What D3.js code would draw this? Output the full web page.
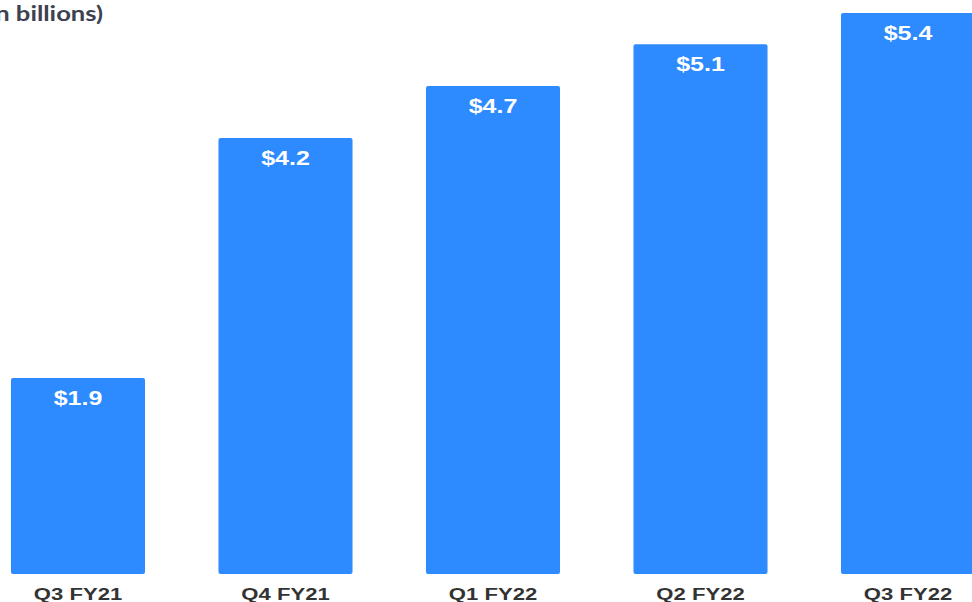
<!DOCTYPE html>
<html><head><meta charset="utf-8">
<script src="https://cdn.jsdelivr.net/npm/d3@7"></script>
<style>html,body{margin:0;padding:0;background:#fff;overflow:hidden}</style>
</head><body>
<svg id="c" width="972" height="602"></svg>
<script>
const categories = ["Q3 FY21","Q4 FY21","Q1 FY22","Q2 FY22","Q3 FY22"];
const values = [1.9, 4.2, 4.7, 5.1, 5.4];
const valueLabels = ["$1.9","$4.2","$4.7","$5.1","$5.4"];
const title = "(in billions)";

const svg = d3.select("#c");
const x = d3.scaleBand().domain(categories).range([-25.75, 1011.75]).paddingInner(0.354).paddingOuter(0.177);
const y = d3.scaleLinear().domain([0, 5.4]).range([576, 13]);

svg.append("text").attr("x", 0).attr("y", 0)
  .attr("transform", "translate(103,21) scale(1.22,1)")
  .attr("text-anchor", "end")
  .attr("font-family", "Lato, 'Open Sans', sans-serif").attr("font-size", 21).attr("font-weight", "bold")
  .attr("fill", "#3d4150").text(title);

svg.selectAll("rect.bar").data(values).enter().append("rect")
  .attr("x", (d,i) => x(categories[i]))
  .attr("y", d => y(d))
  .attr("width", x.bandwidth())
  .attr("height", d => 574 - y(d))
  .attr("rx", 2)
  .attr("fill", "#2e8bff");

svg.selectAll("text.val").data(values).enter().append("text")
  .attr("x", 0).attr("y", 0)
  .attr("transform", (d,i) => `translate(${x(categories[i]) + x.bandwidth()/2},${y(d) + 27}) scale(1.25,1)`)
  .attr("text-anchor", "middle")
  .attr("font-family", "'Liberation Sans', Arial, sans-serif").attr("font-weight", "bold").attr("font-size", 20)
  .attr("fill", "#fff").text((d,i) => valueLabels[i]);

const ax = svg.append("g").attr("transform", "translate(0,576)")
  .call(d3.axisBottom(x).tickSize(0).tickPadding(0));
ax.select(".domain").remove();
ax.selectAll("text").attr("dy", null).attr("y", 0)
  .attr("transform", "translate(0,24) scale(1.3,1)")
  .attr("font-family", "'Liberation Sans', Arial, sans-serif").attr("font-weight", "bold").attr("font-size", 17)
  .attr("fill", "#333");
</script>
</body></html>
